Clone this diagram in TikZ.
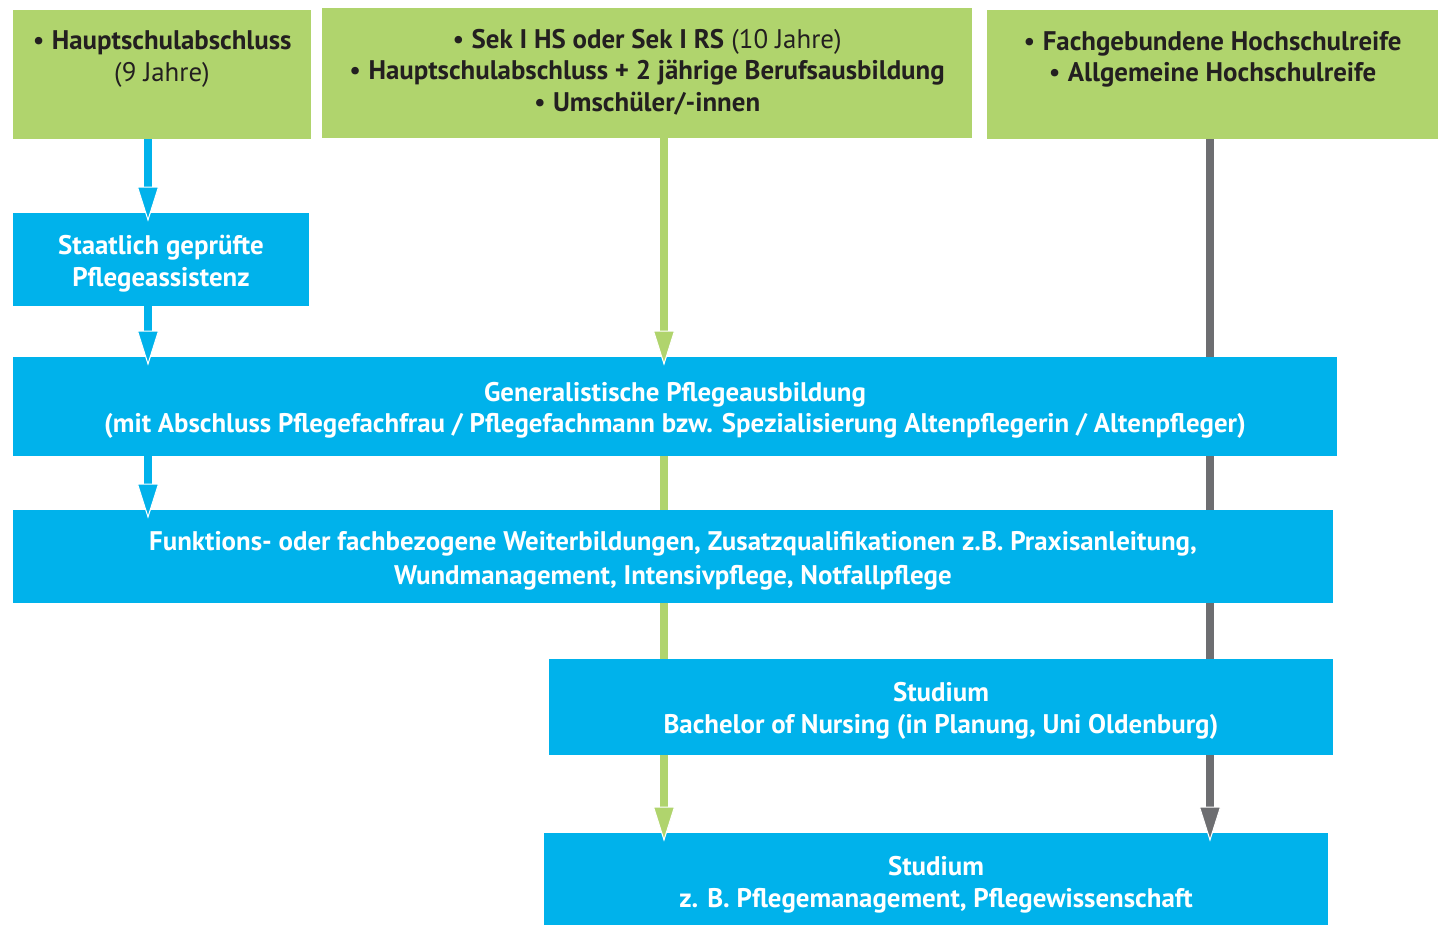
\documentclass[tikz,border=0pt]{standalone}
\usepackage{fontspec}
\setmainfont{PT Sans}
\usetikzlibrary{arrows.meta}

\definecolor{hgruen}{RGB}{176,212,109}
\definecolor{hblau}{RGB}{0,178,235}
\definecolor{hgrau}{RGB}{109,110,113}
\definecolor{htext}{RGB}{35,31,32}

\newcommand{\schrift}{\fontsize{15.3}{18}\selectfont}

\tikzset{
            kasten/.style={rectangle, inner sep=0pt},
            schule/.style={kasten, fill=hgruen},
            weg/.style={kasten, fill=hblau},
            schultext/.style={anchor=north, inner sep=0pt, align=center, text=htext, font=\schrift},
            wegtext/.style={inner sep=0pt, align=center, text=white, font=\schrift\bfseries},
            linie/.style={line width=0.16cm, draw=#1},
            pfeil/.style={linie=#1, shorten >=-0.18cm,
                -{Triangle[length=0.7cm, width=0.44cm, fill=#1, color=white, line width=0.6pt]}}
        }

\begin{document}
\begin{tikzpicture}[x=0.02cm, y=-0.02cm]
                \useasboundingbox (0,0) rectangle (1438,926);

                % Schulabschluesse
                \node[schule, minimum width=5.96cm, minimum height=2.58cm] (g1) at (162,74.5) {};
                \node[schule, minimum width=13cm, minimum height=2.6cm] (g2) at (647,73) {};
                \node[schule, minimum width=9.02cm, minimum height=2.58cm] (g3) at (1212.5,74.5) {};
                \node[schultext] (g1txt) at ([yshift=-0.42cm]g1.north)
                    {\textbullet\ \textbf{Hauptschulabschluss}\\(9 Jahre)};
                \node[schultext] (g2txt) at ([yshift=-0.42cm]g2.north)
                    {\textbullet\ \textbf{Sek I HS oder Sek I RS} (10 Jahre)\\
                     \textbullet\ \textbf{Hauptschulabschluss + 2 jährige Berufsausbildung}\\
                     \textbullet\ \textbf{Umschüler/-innen}};
                \node[schultext] (g3txt) at ([yshift=-0.42cm]g3.north)
                    {\textbullet\ \textbf{Fachgebundene Hochschulreife}\\
                     \textbullet\ \textbf{Allgemeine Hochschulreife}};

                % Ausbildung und Studium
                \node[weg, minimum width=5.92cm, minimum height=1.86cm] (pa) at (161,259.5) {};
                \node[weg, minimum width=26.48cm, minimum height=1.98cm] (ga) at (675,406.5) {};
                \node[weg, minimum width=26.4cm, minimum height=1.86cm] (wb) at (673,556.5) {};
                \node[weg, minimum width=15.68cm, minimum height=1.92cm] (st1) at (941,707) {};
                \node[weg, minimum width=15.68cm, minimum height=1.84cm] (st2) at (936,879) {};

                \node[wegtext] (patxt) at ([yshift=-0.08cm]pa.center)
                    {Staatlich geprüfte\\Pflegeassistenz};
                \node[wegtext] (gatxt) at ([yshift=-0.08cm]ga.center)
                    {Generalistische Pflegeausbildung\\
                     (mit Abschluss Pflegefachfrau / Pflegefachmann bzw. Spezialisierung Altenpflegerin / Altenpfleger)};
                \node[wegtext] (wbtxt) at ([yshift=-0.08cm]wb.center)
                    {Funktions- oder fachbezogene Weiterbildungen, Zusatzqualifikationen z.B. Praxisanleitung,\\[1.5pt]
                     Wundmanagement, Intensivpflege, Notfallpflege};
                \node[wegtext] (st1txt) at ([yshift=-0.08cm]st1.center)
                    {Studium\\Bachelor of Nursing (in Planung, Uni Oldenburg)};
                \node[wegtext] (st2txt) at ([yshift=-0.12cm]st2.center)
                    {Studium\\z. B. Pflegemanagement, Pflegewissenschaft};

                % Wege
                \coordinate (blauweg) at (148,0);
                \coordinate (gruenweg) at (664,0);
                \coordinate (grauweg) at (1210,0);

                \draw[pfeil=hblau] (g1.south -| blauweg) -- (pa.north -| blauweg);
                \draw[pfeil=hblau] (pa.south -| blauweg) -- (ga.north -| blauweg);
                \draw[pfeil=hblau] (ga.south -| blauweg) -- (wb.north -| blauweg);

                \draw[pfeil=hgruen] (g2.south -| gruenweg) -- (ga.north -| gruenweg);
                \draw[linie=hgruen] (ga.south -| gruenweg) -- (wb.north -| gruenweg);
                \draw[linie=hgruen] (wb.south -| gruenweg) -- (st1.north -| gruenweg);
                \draw[pfeil=hgruen] (st1.south -| gruenweg) -- (st2.north -| gruenweg);

                \draw[linie=hgrau] (g3.south -| grauweg) -- (ga.north -| grauweg);
                \draw[linie=hgrau] (ga.south -| grauweg) -- (wb.north -| grauweg);
                \draw[linie=hgrau] (wb.south -| grauweg) -- (st1.north -| grauweg);
                \draw[pfeil=hgrau] (st1.south -| grauweg) -- (st2.north -| grauweg);
\end{tikzpicture}
\end{document}
